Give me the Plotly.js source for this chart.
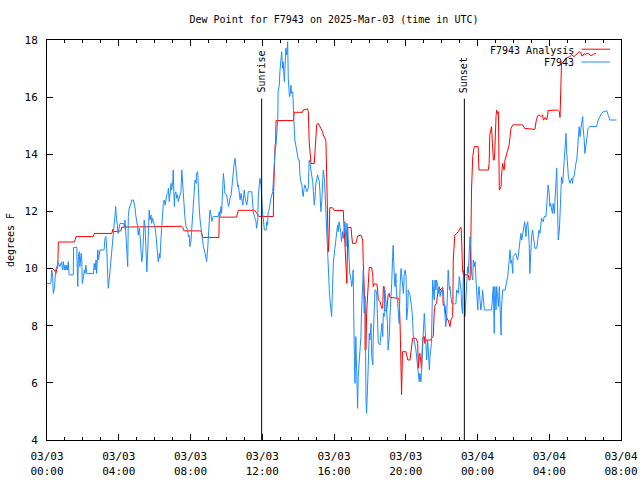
<!DOCTYPE html>
<html>
<head>
<meta charset="utf-8">
<script src="https://cdn.plot.ly/plotly-3.0.1.min.js"></script>
<style>html,body{margin:0;padding:0;background:#fff;}#chart{width:640px;height:480px;}</style>
</head>
<body>
<div id="chart"></div>
<script>
// Observation times are hours since 2025-03-03 00:00 UTC
const blueHours = [
0,0.22,0.26,0.32,0.35,0.41,0.48,0.54,0.63,0.72,
0.82,0.87,0.91,0.97,1.0,1.06,1.1,1.15,1.19,1.24,
1.47,1.49,1.66,1.67,1.71,1.75,1.8,1.84,1.9,1.93,
1.97,2.03,2.08,2.12,2.17,2.21,2.58,2.64,2.68,2.73,
2.77,2.83,2.86,2.92,2.95,3.19,3.23,3.29,3.33,3.38,
3.42,3.47,3.51,3.57,3.61,3.66,3.7,3.75,3.79,3.83,
3.85,3.88,3.94,3.97,4.01,4.07,4.29,4.31,4.35,4.4,
4.44,4.5,4.53,4.59,4.68,4.72,4.81,4.87,4.91,4.94,
5.0,5.05,5.09,5.15,5.18,5.24,5.28,5.33,5.37,5.42,
5.46,5.52,5.56,5.61,5.65,5.7,5.74,5.8,5.84,5.89,
5.93,6.02,6.08,6.11,6.17,6.2,6.26,6.3,6.35,6.39,
6.45,6.48,6.54,6.58,6.63,6.67,6.73,6.76,6.82,6.86,
6.91,6.95,7.01,7.04,7.1,7.13,7.19,7.23,7.28,7.32,
7.37,7.41,7.47,7.51,7.56,7.6,7.65,7.69,7.75,7.84,
7.88,7.93,7.97,8.03,8.07,8.12,8.16,8.21,8.25,8.31,
8.34,8.4,8.43,8.49,8.53,8.58,8.68,8.71,8.81,8.9,
8.96,8.99,9.05,9.09,9.14,9.18,9.27,9.55,9.6,9.64,
9.7,9.74,9.79,9.83,9.88,9.92,10.02,10.07,10.11,10.16,
10.2,10.26,10.3,10.35,10.39,10.44,10.48,10.54,10.57,10.63,
10.66,10.72,10.76,10.81,10.85,10.91,10.94,11.0,11.04,11.13,
11.19,11.22,11.41,11.47,11.5,11.56,11.65,11.69,11.75,11.78,
11.83,11.87,11.93,11.97,12.02,12.06,12.11,12.21,12.25,12.3,
12.34,12.39,12.43,12.49,12.58,12.62,12.67,12.71,12.76,12.8,
12.86,12.89,12.95,12.99,13.04,13.08,13.14,13.17,13.23,13.27,
13.32,13.36,13.42,13.45,13.51,13.55,13.6,13.64,13.7,13.73,
13.79,13.82,13.92,13.97,14.01,14.06,14.1,14.16,14.2,14.25,
14.29,14.34,14.38,14.48,14.57,14.62,14.66,14.75,14.81,14.85,
14.9,14.94,14.99,15.09,15.12,15.18,15.22,15.27,15.31,15.37,
15.4,15.46,15.5,15.55,15.59,15.65,15.68,15.74,15.77,15.83,
15.87,15.92,15.96,16.05,16.11,16.2,16.24,16.29,16.39,16.42,
16.48,16.52,16.57,16.61,16.67,16.71,16.76,16.8,16.85,16.89,
16.95,16.98,17.04,17.07,17.13,17.17,17.22,17.26,17.32,17.35,
17.41,17.45,17.5,17.54,17.6,17.63,17.69,17.73,17.78,17.82,
17.88,17.91,17.97,18.0,18.06,18.1,18.16,18.19,18.24,18.28,
18.34,18.38,18.43,18.47,18.56,18.62,18.66,18.71,18.75,18.8,
18.84,18.9,18.93,18.99,19.02,19.08,19.12,19.18,19.21,19.27,
19.3,19.36,19.4,19.45,19.49,19.55,19.58,19.64,19.68,19.73,
19.77,19.83,19.86,19.92,19.96,20.01,20.05,20.11,20.14,20.23,
20.29,20.33,20.39,20.42,20.57,20.61,20.66,20.7,20.75,20.79,
20.85,20.89,20.94,20.98,21.03,21.07,21.13,21.16,21.22,21.25,
21.31,21.35,21.44,21.5,21.53,21.59,21.63,21.68,21.72,21.78,
21.81,21.87,21.91,21.96,22.06,22.09,22.15,22.19,22.24,22.28,
22.34,22.37,22.43,22.46,22.52,22.56,22.74,22.8,22.84,22.93,
22.98,23.02,23.08,23.12,23.17,23.21,23.26,23.3,23.35,23.39,
23.45,23.48,23.54,23.58,23.63,23.67,23.73,23.76,23.82,23.86,
23.91,23.95,24.01,24.04,24.09,24.19,24.23,24.29,24.32,24.38,
24.79,24.84,24.88,24.93,24.97,25.03,25.07,25.12,25.16,25.21,
25.25,25.31,25.34,25.4,25.53,25.62,25.68,25.71,25.77,25.81,
25.86,25.9,25.96,25.99,26.14,26.24,26.27,26.33,26.37,26.42,
26.46,26.55,26.61,26.64,26.7,26.74,26.8,26.83,26.88,26.92,
26.98,27.02,27.07,27.11,27.2,27.3,27.35,27.39,27.44,27.48,
27.54,27.57,27.67,27.72,27.81,27.85,27.91,27.94,28.0,28.04,
28.09,28.13,28.19,28.22,28.28,28.32,28.37,28.41,28.47,28.5,
28.56,28.6,28.65,28.69,28.75,28.78,28.84,28.87,28.93,28.97,
29.02,29.06,29.15,29.21,29.25,29.3,29.34,29.39,29.43,29.49,
29.53,29.58,29.62,29.67,29.71,29.77,29.8,29.86,29.89,29.95,
29.99,30.04,30.08,30.14,30.17,30.27,30.64,30.73,30.83,30.92,
31.01,31.11,31.2,31.29,31.38,31.75
];
const blueValues = [
9.48,9.48,9.95,9.72,9.13,9.31,9.95,10.07,10.21,10.07,
10.24,9.95,10.24,9.95,10.12,9.95,10.12,9.95,10.24,9.78,
9.78,10.74,10.74,10.42,9.37,10.42,10.59,10.07,10.53,10.47,
9.48,9.72,9.95,9.83,10.12,9.83,9.83,10.18,9.95,10.3,
9.83,10.65,10.3,10.48,10.65,10.65,11.06,11.12,10.65,9.72,
9.31,9.6,9.95,10.3,10.53,10.94,11.12,11.41,11.76,12.17,
11.93,11.7,11.41,11.23,11.41,11.58,11.58,11.41,11.7,11.12,
10.53,10.07,11.82,12.11,12.28,12.4,12.4,12.28,12.11,11.93,
11.7,11.47,11.17,11.41,11.17,10.65,10.24,10.48,11.35,11.7,
11.47,10.3,9.89,10.65,11.35,12.05,11.7,11.88,11.58,11.76,
11.65,11.47,11.12,10.77,10.53,10.24,10.53,10.36,11.0,11.35,
11.82,12.28,12.4,12.22,12.4,12.58,12.63,12.81,12.34,12.69,
12.98,12.75,13.1,13.45,12.17,12.63,12.69,12.46,12.58,12.34,
12.46,12.52,12.69,13.45,12.98,12.46,12.05,11.82,11.47,11.35,
11.12,11.17,10.77,11.0,11.35,11.82,12.4,12.87,13.1,12.98,
13.33,13.39,12.63,12.17,11.7,11.47,11.0,10.77,10.53,10.24,
10.77,11.12,11.7,12.05,11.93,11.65,11.82,11.82,11.99,11.82,
12.17,11.93,12.63,13.33,12.98,12.63,12.58,12.34,12.17,12.28,
12.46,12.58,12.87,13.1,13.45,13.68,13.86,13.57,13.33,12.87,
12.93,12.69,12.4,12.63,12.52,12.22,12.34,12.75,12.52,12.22,
12.4,12.69,12.69,12.34,11.99,11.82,11.65,11.41,11.7,12.58,
13.1,13.16,12.93,12.22,11.93,11.7,11.35,11.35,11.64,11.53,
11.99,12.05,12.28,12.46,12.69,13.1,13.63,14.15,14.33,14.68,
15.26,16.19,16.42,16.89,17.24,17.59,17.01,17.24,16.54,17.01,
17.71,17.48,17.94,16.66,16.02,16.07,16.42,16.13,16.19,15.26,
14.91,14.5,14.15,14.03,13.8,13.8,13.28,12.98,12.98,12.63,
12.52,12.81,12.93,12.69,12.81,13.8,13.68,13.28,13.04,12.69,
12.22,12.4,12.93,13.28,13.16,13.04,12.69,11.99,12.34,12.81,
13.45,13.16,12.63,11.64,11.17,10.24,9.77,9.31,8.96,8.49,
8.32,9.31,10.24,10.71,11.06,11.53,11.29,11.64,11.23,10.94,
11.29,11.06,11.35,11.64,10.77,11.58,11.35,10.71,9.95,9.83,
9.6,9.37,9.54,9.95,6.92,5.98,7.62,5.98,5.11,6.22,
6.92,7.27,7.62,8.43,9.83,9.95,8.43,9.02,5.4,4.93,
6.1,7.27,7.73,7.5,8.08,6.92,6.63,7.5,8.32,9.25,
9.25,9.08,8.08,7.38,7.33,7.62,8.08,7.62,8.43,8.32,
9.25,8.78,8.43,8.08,7.15,7.62,8.32,8.9,9.48,10.42,
10.82,9.6,9.37,9.83,9.13,8.78,8.43,8.08,9.37,10.0,
9.83,9.37,9.13,9.83,9.95,9.72,8.2,8.67,9.25,9.08,
8.9,8.61,8.2,7.67,7.15,6.8,6.57,6.45,6.04,6.33,
6.04,6.57,7.27,7.73,8.43,8.08,7.15,6.8,7.5,7.27,
6.45,6.92,7.38,9.6,9.37,8.9,9.6,9.25,9.6,9.37,
9.13,9.37,9.02,9.25,9.08,9.25,8.67,8.14,7.97,8.32,
9.6,9.95,9.25,9.37,9.02,8.78,8.76,8.78,9.25,9.13,
9.72,9.48,9.25,8.67,8.43,9.95,9.6,8.32,9.13,9.6,
10.07,9.83,10.77,11.12,10.65,9.83,9.6,10.3,10.07,10.24,
9.6,9.25,8.55,9.02,9.37,8.55,8.78,9.25,9.02,8.55,
8.55,9.02,9.37,7.73,9.37,8.55,9.37,9.02,8.67,9.37,
8.55,7.67,8.55,9.25,9.25,9.48,9.72,9.95,10.42,10.65,
10.18,10.3,9.83,10.42,10.53,10.3,10.42,10.77,11.12,11.23,
11.0,11.35,11.47,11.64,11.12,11.47,11.64,11.35,10.88,9.83,
10.77,11.12,11.35,11.12,10.71,10.71,11.0,11.23,11.35,11.23,
11.64,11.76,11.64,11.82,11.82,12.05,12.75,12.93,12.63,12.17,
12.28,12.05,11.93,12.28,11.93,12.34,13.21,13.51,12.05,11.0,
11.35,12.05,12.98,13.21,12.98,13.33,14.03,14.38,14.73,14.15,
13.45,13.21,12.98,13.16,13.16,12.98,13.21,13.21,13.51,13.68,
13.8,14.15,14.5,14.97,14.62,14.97,15.08,15.32,14.97,14.5,
14.03,14.27,14.5,14.85,14.91,14.97,14.97,15.2,15.32,15.43,
15.49,15.49,15.53,15.38,15.2,15.2
];

const redHours = [
0,0.3,0.41,0.5,0.54,0.6,0.63,1.52,1.56,1.62,
2.58,2.64,3.61,3.66,3.7,4.12,4.16,7.51,7.56,7.6,
7.65,8.58,8.62,8.68,9.59,9.6,10.57,10.63,10.66,11.59,
11.65,11.69,11.75,11.78,12.62,12.63,12.67,12.71,12.75,12.76,
13.73,13.79,14.25,14.29,14.53,14.57,14.62,14.66,14.72,14.9,
14.94,14.99,15.03,15.12,15.18,15.22,15.27,15.31,15.37,15.4,
15.46,15.5,15.55,15.59,15.65,15.68,15.74,15.77,15.92,15.96,
16.01,16.52,16.57,16.61,16.67,16.71,16.76,16.95,16.98,17.04,
17.22,17.26,17.32,17.5,17.54,17.6,17.63,17.69,17.73,17.74,
17.78,17.82,17.88,17.91,17.97,18.1,18.16,18.19,18.24,18.38,
18.43,18.47,18.56,18.62,18.66,18.71,18.75,18.8,18.84,18.93,
18.99,19.02,19.08,19.12,19.58,19.64,19.68,19.73,19.77,19.81,
20.01,20.05,20.11,20.23,20.29,20.33,20.39,20.57,20.61,20.66,
20.7,20.75,20.79,20.85,20.89,20.94,20.98,21.03,21.07,21.13,
21.4,21.44,21.53,21.59,21.63,21.72,21.78,21.81,21.87,21.91,
22.0,22.06,22.09,22.19,22.24,22.28,22.34,22.37,22.43,22.46,
22.52,22.61,22.65,22.71,22.74,22.84,22.93,23.02,23.08,23.12,
23.17,23.21,23.48,23.54,23.58,23.63,23.67,23.73,23.76,23.82,
24.04,24.09,24.6,24.65,24.69,24.75,24.79,24.84,24.88,24.93,
24.97,25.03,25.07,25.12,25.16,25.21,25.31,25.34,25.4,25.44,
25.49,25.53,25.62,25.71,25.77,25.81,25.86,25.96,26.52,26.61,
27.2,27.26,27.35,27.44,27.54,27.63,27.67,27.72,27.76,27.81,
27.85,27.91,27.94,28.47,28.56,28.6,28.65,28.69,28.78,28.93,
29.15,29.25,29.39,29.53,29.67,29.77,29.8,29.89,29.95,30.04,
30.08,30.17,30.27,30.33,30.46,30.55,30.6
];
const redValues = [
10.0,10.0,9.95,9.83,9.95,10.07,10.93,10.93,11.0,11.12,
11.12,11.23,11.23,11.37,11.29,11.32,11.45,11.48,11.44,11.35,
11.32,11.32,11.23,11.09,11.09,11.8,11.8,11.93,12.04,12.04,
11.99,11.93,11.88,11.83,11.82,12.69,13.74,14.33,14.4,15.18,
15.18,15.47,15.47,15.55,15.59,15.49,14.44,14.15,13.68,13.68,
14.1,14.79,15.03,15.09,15.03,14.97,14.91,14.85,14.79,14.68,
14.62,14.56,14.44,13.39,12.34,10.59,11.23,12.13,12.13,12.07,
12.03,12.03,11.47,10.77,10.07,9.48,11.44,11.44,11.17,10.88,
10.88,11.06,11.14,11.17,11.12,11.0,10.18,9.02,8.43,7.15,
7.15,8.43,9.37,9.83,10.04,10.04,9.72,9.37,9.46,9.46,
9.25,8.9,8.84,8.72,8.61,8.61,9.37,9.37,8.55,8.49,
9.02,9.08,9.13,8.99,8.96,8.9,8.08,6.45,5.58,7.09,
7.09,6.98,6.8,6.8,7.09,7.33,7.56,7.56,7.5,7.38,
6.51,6.92,7.03,6.68,6.45,7.38,7.62,7.62,7.38,7.5,
7.5,7.56,7.62,8.43,8.72,8.78,9.13,9.31,9.34,9.25,
9.31,9.34,8.72,8.72,8.38,8.26,8.2,8.2,7.97,7.97,
8.2,8.32,10.3,11.06,11.17,11.23,11.29,11.41,11.44,11.0,
9.95,9.78,9.78,9.6,9.6,11.12,12.75,13.92,14.15,14.27,
14.27,13.45,13.45,13.68,14.68,14.85,14.97,14.38,13.8,13.8,
14.15,15.32,15.55,15.43,15.49,12.75,12.87,13.21,13.68,13.57,
13.45,13.8,14.03,14.27,14.33,14.62,14.91,15.03,15.03,14.91,
14.87,15.15,15.35,15.38,15.32,15.38,15.2,15.22,15.29,15.26,
15.2,15.38,15.53,15.55,15.49,15.29,16.31,17.18,17.24,17.36,
17.42,17.48,17.42,17.53,17.59,17.56,17.45,17.45,17.53,17.48,
17.53,17.53,17.48,17.45,17.5,17.52,17.53
];

const sunriseHour = 11.97;  // 11:58 UTC
const sunsetHour = 23.26;   // 23:16 UTC

const seriesNames = ['F7943 Analysis', 'F7943'];
const seriesColors = ['#ff0000', '#1e8cff'];
const titleText = 'Dew Point for F7943 on 2025-Mar-03 (time in UTC)';
const yTitle = 'degrees F';

const START = Date.UTC(2025, 2, 3, 0, 0, 0);
function toTime(h) {
  const d = new Date(START + Math.round(h * 60) * 60000);
  return d.toISOString().slice(0, 16).replace('T', ' ');
}

const traces = [
  {x: redHours.map(toTime), y: redValues, type: 'scatter', mode: 'lines', name: seriesNames[0],
   line: {color: seriesColors[0], width: 1}},
  {x: blueHours.map(toTime), y: blueValues, type: 'scatter', mode: 'lines', name: seriesNames[1],
   line: {color: seriesColors[1], width: 1}}
];

const FONT = 'DejaVu Sans Mono, monospace';

const layout = {
  width: 640, height: 480,
  margin: {l: 47, r: 19, t: 40, b: 40, pad: 0},
  paper_bgcolor: '#ffffff', plot_bgcolor: '#ffffff',
  font: {family: FONT, size: 10, color: '#000000'},
  showlegend: false,
  title: {text: titleText, x: 0.5, xref: 'paper', xanchor: 'center', y: 1 - 19/480, yref: 'container', yanchor: 'middle',
          font: {family: FONT, size: 10, color: '#000'}},
  xaxis: {
    type: 'date', range: [toTime(0), toTime(32)], tick0: toTime(0), dtick: 4 * 3600000,
    tickformat: '%m/%d<br>%H:%M', ticks: 'inside', ticklen: 6, tickcolor: '#000', tickwidth: 1,
    showline: true, linecolor: '#000', linewidth: 1, mirror: 'allticks',
    showgrid: false, zeroline: false, tickfont: {family: FONT, size: 11},
    ticklabelstandoff: 6,
    minor: {dtick: 3600000, ticks: 'inside', ticklen: 3, tickcolor: '#000', showgrid: false}
  },
  yaxis: {
    range: [4, 18], dtick: 2, ticks: 'inside', ticklen: 6, tickcolor: '#000',
    showline: true, linecolor: '#000', linewidth: 1, mirror: 'allticks',
    showgrid: false, zeroline: false, tickfont: {family: FONT, size: 11},
    ticklabelstandoff: 6,
    title: {text: yTitle, standoff: 8, font: {family: FONT, size: 10}}
  },
  shapes: [
    {type: 'line', xref: 'x', yref: 'y', x0: toTime(sunriseHour), x1: toTime(sunriseHour), y0: 4, y1: 15.95,
     line: {color: '#000', width: 1}, layer: 'above'},
    {type: 'line', xref: 'x', yref: 'y', x0: toTime(sunsetHour), x1: toTime(sunsetHour), y0: 4, y1: 15.95,
     line: {color: '#000', width: 1}, layer: 'above'},
    {type: 'line', xref: 'paper', yref: 'paper', x0: 0.9315, x1: 0.981, y0: 0.977, y1: 0.977,
     line: {color: seriesColors[0], width: 1}},
    {type: 'line', xref: 'paper', yref: 'paper', x0: 0.9315, x1: 0.981, y0: 0.945, y1: 0.945,
     line: {color: seriesColors[1], width: 1}}
  ],
  annotations: [
    {text: 'Sunrise', x: toTime(sunriseHour), y: 16.08, xref: 'x', yref: 'y', textangle: -90,
     xanchor: 'center', yanchor: 'bottom', showarrow: false, font: {family: FONT, size: 10}},
    {text: 'Sunset', x: toTime(sunsetHour), y: 16.08, xref: 'x', yref: 'y', textangle: -90,
     xanchor: 'center', yanchor: 'bottom', showarrow: false, font: {family: FONT, size: 10}},
    {text: seriesNames[0], x: 0.9215, y: 0.975, xref: 'paper', yref: 'paper', xanchor: 'right', yanchor: 'middle',
     showarrow: false, font: {family: FONT, size: 10}},
    {text: seriesNames[1], x: 0.9215, y: 0.943, xref: 'paper', yref: 'paper', xanchor: 'right', yanchor: 'middle',
     showarrow: false, font: {family: FONT, size: 10}}
  ]
};

Plotly.newPlot('chart', traces, layout, {displayModeBar: false, staticPlot: true});
</script>
</body>
</html>
